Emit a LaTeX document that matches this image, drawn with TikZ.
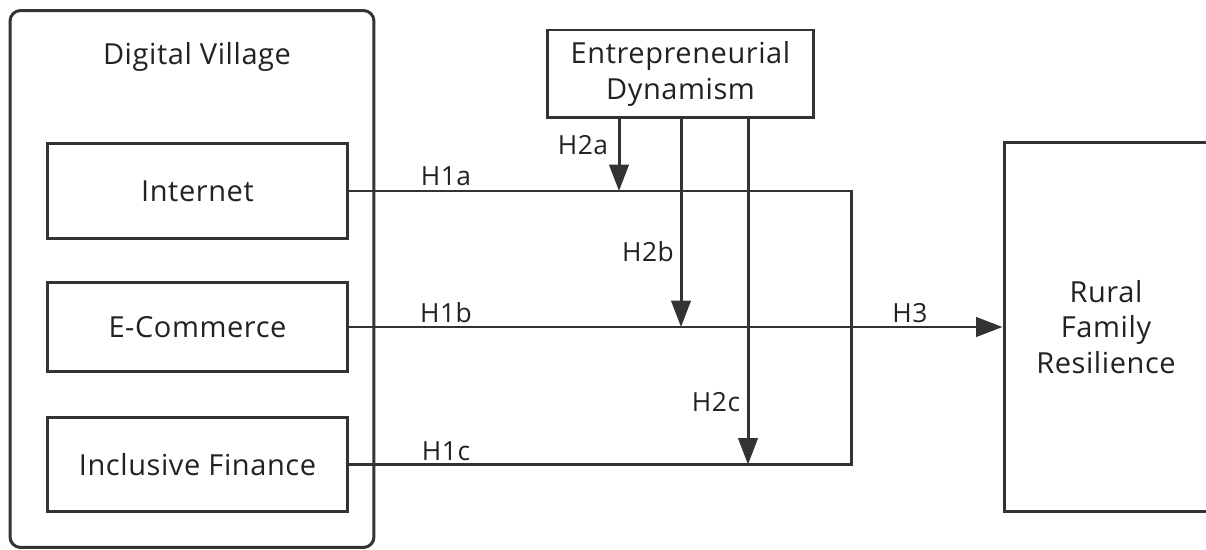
\documentclass[tikz,border=0pt]{standalone}
\usepackage{fontspec}
\setmainfont[LetterSpace=2]{Open Sans}
\usepackage{tikz}
\usetikzlibrary{arrows.meta,positioning,calc}
\definecolor{dvline}{HTML}{333333}
\definecolor{dvtext}{HTML}{222222}

\begin{document}
\begin{tikzpicture}[
  x=0.02cm, y=-0.02cm,
  box/.style={
    draw=dvline,
    line width=1.7pt,
    fill=white,
    align=center,
    text=dvtext,
    font=\fontsize{16.5}{20}\selectfont,
    inner sep=0pt,
  },
  dimbox/.style={
    box,
    minimum width=6.02cm,
    minimum height=1.9cm,
  },
  hlabel/.style={
    text=dvtext,
    font=\fontsize{15}{17}\selectfont,
    inner sep=1pt,
  },
  link/.style={
    line width=1.7pt,
    draw=dvline,
  },
  arr/.style={
    link,
    -{Triangle[length=15pt, width=11pt]},
  },
]

% page frame (right box runs off the edge)
\clip (0,0) rectangle (1206,550);

% --- Digital Village group ---
\node[box, rounded corners=6pt, minimum width=7.28cm, minimum height=10.74cm]
  (village) at (192,279) {};
\node[text=dvtext, font=\fontsize{16.5}{20}\selectfont] (villagetitle) at (197,57) {Digital Village};

\node[dimbox] (internet) at (197.5,191) {Internet};
\node[dimbox, minimum height=1.8cm] (ecommerce) at (197.5,327) {E-Commerce};
\node[dimbox] (finance) at (197.5,464.5) {Inclusive Finance};

% --- moderator and outcome ---
\node[box, minimum width=5.34cm, minimum height=1.76cm] (entre) at (680.5,74)
  {Entrepreneurial\\Dynamism};
\node[box, minimum width=4.08cm, minimum height=7.38cm] (rural) at (1106,327)
  {Rural\\Family\\Resilience};

% --- helper coordinates ---
\coordinate (bus) at (851,0);
\coordinate (moda) at (619,0);
\coordinate (modb) at (681,0);
\coordinate (modc) at (748,0);

% --- main paths ---
\draw[link] (internet.east) -- (internet.east -| bus) -- (finance.east -| bus) -- (finance.east);
\draw[arr] (ecommerce.east) -- (ecommerce.east -| rural.west);

% --- moderating arrows ---
\draw[arr] (entre.south -| moda) -- (internet.east -| moda);
\draw[arr] (entre.south -| modb) -- (ecommerce.east -| modb);
\draw[arr] (entre.south -| modc) -- (finance.east -| modc);

% --- hypothesis labels ---
\node[hlabel] (h1a) at (446,176) {H1a};
\node[hlabel] (h1b) at (446,313) {H1b};
\node[hlabel] (h1c) at (446,451) {H1c};
\node[hlabel] (h2a) at (583,145) {H2a};
\node[hlabel] (h2b) at (648,252) {H2b};
\node[hlabel] (h2c) at (716,402) {H2c};
\node[hlabel] (h3) at (910,313) {H3};

\end{tikzpicture}
\end{document}
